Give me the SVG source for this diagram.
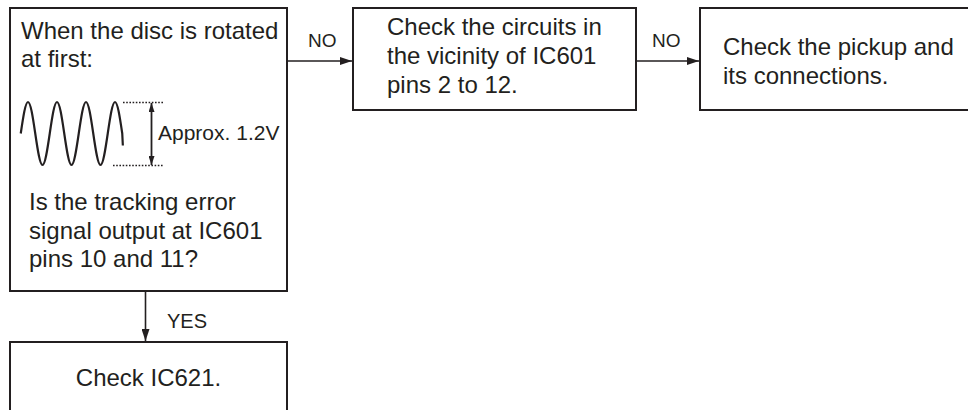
<svg xmlns="http://www.w3.org/2000/svg" width="968" height="410" viewBox="0 0 968 410">
<style>
  .box{fill:#fff;stroke:#231f20;stroke-width:2}
  .t{font-family:"Liberation Sans",Arial,Helvetica,sans-serif;font-size:24px;fill:#231f20}
  .lab{font-family:"Liberation Sans",Arial,Helvetica,sans-serif;font-size:19px;fill:#231f20}
  .con{stroke:#231f20;stroke-width:1.6;fill:none}
  .dot{stroke:#231f20;stroke-width:1.4;stroke-dasharray:1.6 1.6;fill:none}
</style>
<defs>
  <marker id="ah" viewBox="0 0 12 8" refX="12" refY="4" markerWidth="12" markerHeight="8" markerUnits="userSpaceOnUse" orient="auto">
    <path d="M0,0 L12,4 L0,8 Z" fill="#231f20"/>
  </marker>
  <marker id="sh" viewBox="0 0 9 6" refX="9" refY="3" markerWidth="9" markerHeight="6" markerUnits="userSpaceOnUse" orient="auto-start-reverse">
    <path d="M0,0 L9,3 L0,6 Z" fill="#231f20"/>
  </marker>
</defs>
<rect width="968" height="410" fill="#fff"/>

<g id="n1">
  <rect class="box" x="10" y="8" width="277" height="283"/>
  <text class="t" x="21" y="39">When the disc is rotated</text>
  <text class="t" x="21" y="67">at first:</text>
  <path d="M20.75,133.5 c2.36,-16.1 4.67,-31.5 7.25,-31.5 s4.89,15.4 7.25,31.5 s4.67,31.5 7.25,31.5 s4.89,-15.4 7.25,-31.5 s4.67,-31.5 7.25,-31.5 s4.89,15.4 7.25,31.5 s4.67,31.5 7.25,31.5 s4.89,-15.4 7.25,-31.5 s4.67,-31.5 7.25,-31.5 s4.89,15.4 7.25,31.5 s4.67,31.5 7.25,31.5 s4.89,-15.4 7.25,-31.5 s4.67,-31.5 7.25,-31.5 s4.89,15.4 7.25,31.5 l0.6,12" fill="none" stroke="#231f20" stroke-width="2.2"/>
  <line class="dot" x1="123" y1="102.5" x2="163" y2="102.5"/>
  <line class="dot" x1="113" y1="165.5" x2="163" y2="165.5"/>
  <line x1="151.5" y1="103" x2="151.5" y2="165" stroke="#231f20" stroke-width="1.8" marker-start="url(#sh)" marker-end="url(#sh)"/>
  <text class="t" x="158" y="140" style="font-size:21px">Approx. 1.2V</text>
  <text class="t" x="29" y="210">Is the tracking error</text>
  <text class="t" x="29" y="238.5">signal output at IC601</text>
  <text class="t" x="29" y="267">pins 10 and 11?</text>
</g>

<g id="n2">
  <rect class="box" x="353" y="8" width="283" height="102"/>
  <text class="t" x="387" y="35">Check the circuits in</text>
  <text class="t" x="387" y="64">the vicinity of IC601</text>
  <text class="t" x="387" y="93">pins 2 to 12.</text>
</g>

<g id="n3">
  <path class="box" d="M970,8 H700 V110 H970"/>
  <text class="t" x="723" y="55">Check the pickup and</text>
  <text class="t" x="723" y="83.5">its connections.</text>
</g>

<g id="n4">
  <path class="box" d="M10,412 V342 H287 V412"/>
  <text class="t" x="148.5" y="386" text-anchor="middle">Check IC621.</text>
</g>

<g id="connectors">
  <line class="con" x1="287" y1="61" x2="352" y2="61" marker-end="url(#ah)"/>
  <text class="lab" x="308" y="47">NO</text>
  <line class="con" x1="636" y1="61" x2="699" y2="61" marker-end="url(#ah)"/>
  <text class="lab" x="652" y="47">NO</text>
  <line class="con" x1="145.5" y1="291" x2="145.5" y2="341" marker-end="url(#ah)"/>
  <text class="lab" x="167" y="328" style="font-size:20px">YES</text>
</g>
</svg>
